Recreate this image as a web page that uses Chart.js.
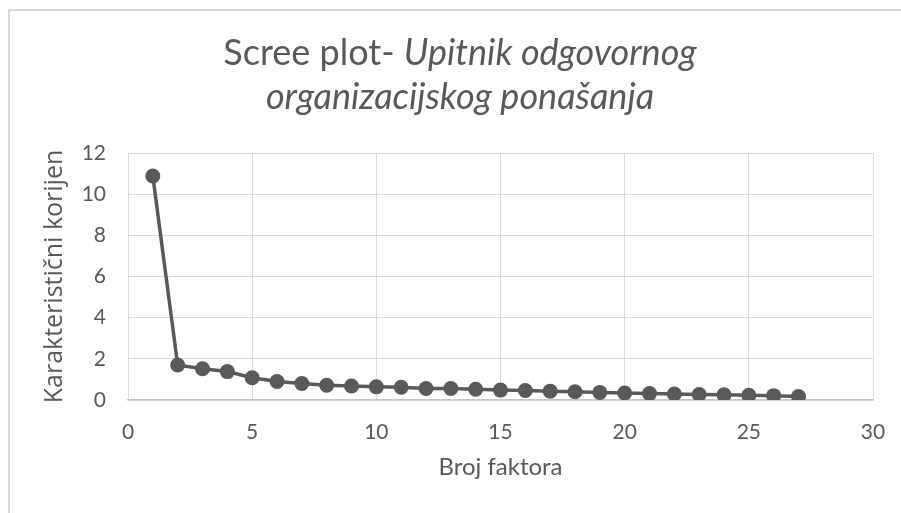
<!DOCTYPE html>
<html>
<head>
<meta charset="utf-8">
<script src="https://cdn.jsdelivr.net/npm/chart.js@4/dist/chart.umd.min.js"></script>
<style>
  html, body { margin: 0; padding: 0; background: #fff; }
  #wrap { position: relative; width: 901px; height: 513px; overflow: hidden; }
  #frame { position: absolute; left: 8px; top: 9px; width: 1000px; height: 1000px;
           border: 2px solid #d9d9d9; box-sizing: border-box; }
  #title { position: absolute; left: 0; width: 920px; top: 29px; text-align: center;
           font-family: Lato, sans-serif; font-size: 36px; line-height: 44px; color: #595959; }
  canvas { position: absolute; left: 0; top: 0; }
</style>
</head>
<body>
<div id="wrap">
  <div id="frame"></div>
  <canvas id="myChart" width="901" height="513"></canvas>
  <div id="title">Scree plot- <i>Upitnik odgovornog</i><br><i>organizacijskog ponašanja</i></div>
</div>
<script>
const factors = [1, 2, 3, 4, 5, 6, 7, 8, 9, 10, 11, 12, 13, 14, 15, 16, 17, 18, 19, 20, 21, 22, 23, 24, 25, 26, 27];
const eigenvalues = [10.88, 1.70, 1.52, 1.38, 1.08, 0.90, 0.80, 0.72, 0.68, 0.64, 0.62, 0.56, 0.56, 0.52, 0.48, 0.46, 0.43, 0.40, 0.37, 0.34, 0.31, 0.29, 0.27, 0.25, 0.23, 0.21, 0.17];
const xTitle = "Broj faktora";
const yTitle = "Karakteristični korijen";

const textColor = "#595959";
const gridColor = "#d9d9d9";

new Chart("myChart", {
  type: "line",
  data: {
    datasets: [{
      data: factors.map((f, i) => ({ x: f, y: eigenvalues[i] })),
      borderColor: "#595959",
      backgroundColor: "#595959",
      borderWidth: 3.5,
      pointRadius: 7.5,
      pointBorderWidth: 0,
      tension: 0
    }]
  },
  options: {
    responsive: false,
    animation: false,
    layout: { padding: { left: 0, right: 28, top: 153, bottom: 0 } },
    plugins: {
      legend: { display: false },
      tooltip: { enabled: false }
    },
    scales: {
      x: {
        type: "linear",
        min: 0,
        max: 30,
        ticks: { stepSize: 5, color: textColor, padding: 20, font: { family: "Lato", size: 21 } },
        grid: { color: gridColor, drawTicks: false },
        border: { display: true, color: "#c6c6c6", width: 1.5 },
        title: {
          display: true, text: xTitle, color: textColor,
          font: { family: "Lato", size: 24 }, padding: { top: 0, bottom: 31 }
        },
        afterFit: scale => {
          scale.height = 113;
          scale.paddingRight = 0;
          scale.paddingLeft = 0;
        }
      },
      y: {
        min: 0,
        max: 12,
        ticks: { stepSize: 2, color: textColor, padding: 22, font: { family: "Lato", size: 21 } },
        grid: { color: gridColor, drawTicks: false },
        border: { display: false },
        title: {
          display: true, text: yTitle, color: textColor,
          font: { family: "Open Sans", size: 25 }, padding: { top: 40, bottom: 0 }
        },
        afterFit: scale => { scale.width = 128; }
      }
    }
  }
});
</script>
</body>
</html>
